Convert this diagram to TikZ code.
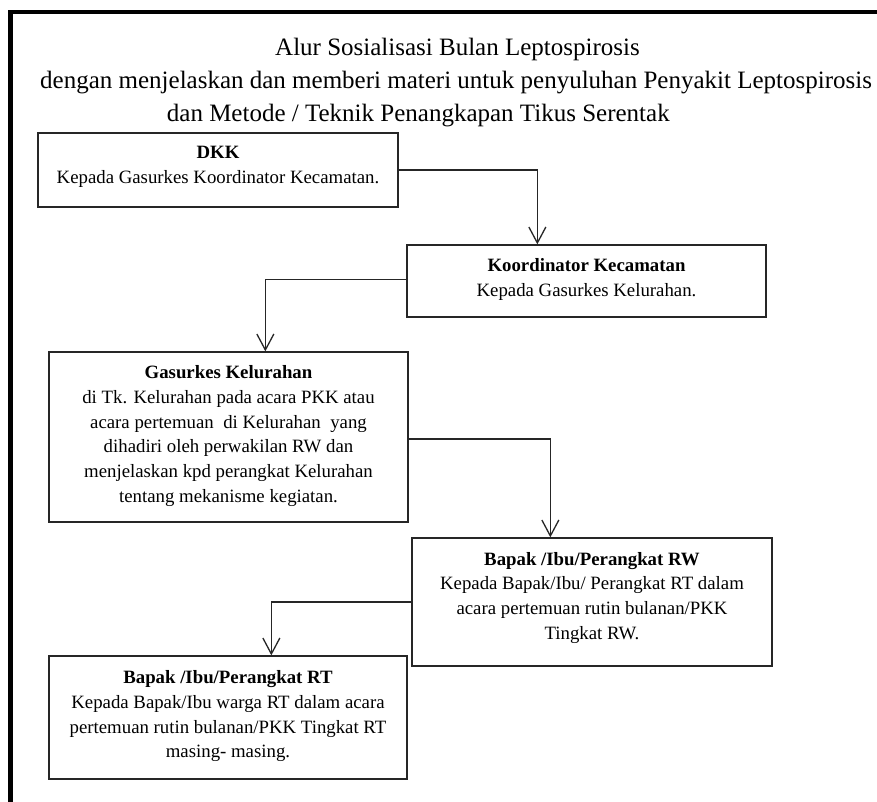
\documentclass[tikz,border=0pt]{standalone}
\usepackage{fontspec}
\setmainfont{Liberation Serif}
\usetikzlibrary{arrows.meta}
\tikzset{
  box/.style={draw=black!85, line width=1.3pt, inner sep=0pt},
  txt/.style={align=center, inner sep=0pt, anchor=north, font=\fontsize{18.8}{24.8}\selectfont},
  ttl/.style={anchor=base west, inner sep=0pt, font=\fontsize{25}{30}\selectfont},
  conn/.style={draw=black!85, line width=1.3pt, -{Straight Barb[length=16pt,width=17pt]}}
}
\begin{document}
\begin{tikzpicture}[x=1pt,y=-1pt]
\useasboundingbox (0,0) rectangle (877,801);
\fill[white] (0,0) rectangle (877,801);
% frame
\draw[line width=4.3pt, line join=miter] (10.5,810) -- (10.5,12.15) -- (890,12.15);
% title
\node[ttl] (t1) at (275,55) {Alur Sosialisasi Bulan Leptospirosis};
\node[ttl] (t2) at (40,88.3) {dengan menjelaskan dan memberi materi untuk penyuluhan Penyakit Leptospirosis};
\node[ttl] (t3) at (166.7,121.7) {dan Metode / Teknik Penangkapan Tikus Serentak};
% boxes
\node[box, minimum width=360pt, minimum height=74pt] (dkk) at (218,170) {};
\node[box, minimum width=359pt, minimum height=72pt] (koord) at (586.5,281) {};
\node[box, minimum width=359pt, minimum height=170pt] (gas) at (228.5,437) {};
\node[box, minimum width=360pt, minimum height=128pt] (rw) at (592,602) {};
\node[box, minimum width=358pt, minimum height=123pt] (rt) at (228,717.5) {};
% texts
\node[txt] (dkk-t) at (218,141.1) {\strut\textbf{DKK}\\Kepada Gasurkes Koordinator Kecamatan.};
\node[txt] (koord-t) at (586.5,254.3) {\strut\textbf{Koordinator Kecamatan}\\Kepada Gasurkes Kelurahan.};
\node[txt] (gas-t) at (228.5,361) {\strut\textbf{Gasurkes Kelurahan}\\di Tk. Kelurahan pada acara PKK atau\\acara pertemuan\ \ di Kelurahan\ \ yang\\dihadiri oleh perwakilan RW dan\\menjelaskan kpd perangkat Kelurahan\\tentang mekanisme kegiatan.};
\node[txt] (rw-t) at (592,547.6) {\strut\textbf{Bapak /Ibu/Perangkat RW}\\Kepada Bapak/Ibu/ Perangkat RT dalam\\acara pertemuan rutin bulanan/PKK\\Tingkat RW.};
\node[txt] (rt-t) at (228,666) {\strut\textbf{Bapak /Ibu/Perangkat RT}\\Kepada Bapak/Ibu warga RT dalam acara\\pertemuan rutin bulanan/PKK Tingkat RT\\masing- masing.};
% connectors
\draw[conn] (dkk.east) -| ([xshift=131pt]koord.north west);
\draw[conn] ([yshift=1.5pt]koord.west) -| ([xshift=217pt]gas.north west);
\draw[conn] ([yshift=-2pt]gas.east) -| ([xshift=139pt]rw.north west);
\draw[conn] (rw.west) -| ([xshift=223pt]rt.north west);
\end{tikzpicture}
\end{document}
